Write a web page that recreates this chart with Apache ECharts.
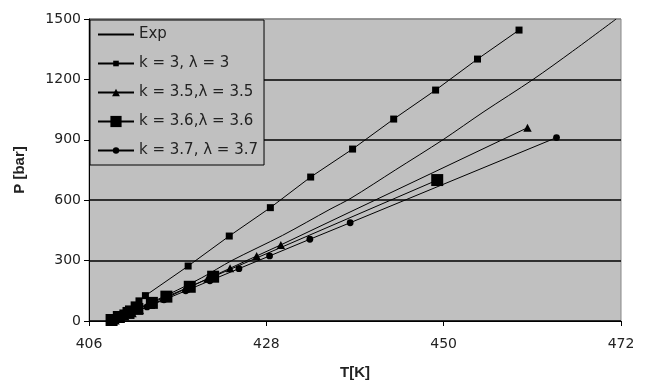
<!DOCTYPE html>
<html><head><meta charset="utf-8">
<script src="https://cdn.jsdelivr.net/npm/echarts@6/dist/echarts.min.js"></script>
<style>html,body{margin:0;padding:0;background:#fff}#c{width:646px;height:382px}</style>
</head><body><div id="c"></div>
<script>
// Tick labels
const xTicks = [406, 428, 450, 472];
const yTicks = [0, 300, 600, 900, 1200, 1500];
// Series names
const names = ['Exp', 'k = 3, \u03bb = 3', 'k = 3.5,\u03bb = 3.5', 'k = 3.6,\u03bb = 3.6', 'k = 3.7, \u03bb = 3.7'];
// Experimental curve
const expT = [408.8, 412, 416, 420, 423.7, 430, 435.9, 438.5, 444, 449.9, 455, 461.1, 466, 471.4];
const expP = [0, 60, 135, 215, 300, 425, 555, 610, 750, 900, 1040, 1200, 1340, 1500];
// k = 3, lambda = 3
const k3T = [409.0, 409.5, 410.2, 410.9, 411.6, 412.2, 413.0, 418.3, 423.4, 428.5, 433.5, 438.7, 443.8, 449.0, 454.2, 459.35];
const k3P = [5, 20, 40, 60, 80, 100, 126, 273, 422, 563, 715, 854, 1003, 1147, 1301, 1445];
// k = 3.5, lambda = 3.5
const k35T = [409.3, 409.9, 410.5, 411.4, 412.3, 413.7, 415.6, 418.0, 420.7, 423.5, 426.8, 429.8, 460.4];
const k35P = [2, 10, 22, 38, 55, 80, 115, 160, 210, 262, 323, 378, 960];
// k = 3.6, lambda = 3.6
const k36T = [408.8, 409.7, 410.9, 412.0, 413.8, 415.6, 418.5, 421.4, 449.2];
const k36P = [5, 20, 40, 60, 90, 121, 170, 220, 700];
// k = 3.7, lambda = 3.7
const k37T = [409.3, 410.2, 411.4, 413.2, 415.3, 418.0, 421.0, 424.6, 428.4, 433.4, 438.4, 464.0];
const k37P = [5, 20, 40, 70, 105, 150, 200, 260, 323, 406, 488, 911];

const pairs = (t, p) => t.map((v, i) => [v, p[i]]);
const FONT = "'DejaVu Sans', sans-serif";
const BFONT = "'Liberation Sans', Arial, sans-serif";
const lineStyle = { color: '#000', width: 1 };
const itemStyle = { color: '#000' };

// marker shapes inside a 12x12 box (moveTo corners fix the box)
const BOX = 'M0,0 M12,12 ';
const SYM_NONE = 'path://' + BOX + 'M6,6 L6,6';
const SYM_SMALLSQ = 'path://' + BOX + 'M3,3 L9,3 L9,9 L3,9 Z';
const SYM_TRI = 'path://' + BOX + 'M6,2 L10.2,10 L1.8,10 Z';
const SYM_CIRC = 'path://' + BOX + 'M2.6,6 A3.4,3.4 0 1,0 9.4,6 A3.4,3.4 0 1,0 2.6,6 Z';

const chart = echarts.init(document.getElementById('c'), null, { renderer: 'canvas' });
chart.setOption({
  animation: false,
  backgroundColor: '#fff',
  grid: { left: 89, right: 25, top: 19, bottom: 61, outerBoundsMode: 'none', containLabel: false,
          show: true, backgroundColor: '#c0c0c0', borderColor: '#888', borderWidth: 1 },
  legend: {
    orient: 'vertical', left: 90, top: 20,
    padding: [7, 6, 7, 7], itemGap: 14, itemWidth: 36, itemHeight: 14,
    backgroundColor: '#c0c0c0', borderColor: '#000', borderWidth: 1,
    textStyle: { fontFamily: FONT, fontSize: 15, color: '#222' },
    data: names
  },
  xAxis: {
    type: 'value', min: xTicks[0], max: xTicks[xTicks.length - 1],
    name: 'T[K]', nameLocation: 'middle', nameGap: 44,
    nameTextStyle: { fontFamily: BFONT, fontSize: 15, fontWeight: 'bold', color: '#222' },
    axisLine: { show: true, lineStyle: { color: '#000', width: 1 } },
    axisTick: { show: true, length: 5, lineStyle: { color: '#000' }, customValues: xTicks },
    axisLabel: { fontFamily: FONT, fontSize: 14, color: '#222', margin: 16, customValues: xTicks },
    splitLine: { show: false }
  },
  yAxis: {
    type: 'value', min: yTicks[0], max: yTicks[yTicks.length - 1], interval: 300,
    name: 'P [bar]', nameLocation: 'middle', nameGap: 62, nameRotate: 90,
    nameTextStyle: { fontFamily: BFONT, fontSize: 15, fontWeight: 'bold', color: '#222' },
    axisLine: { show: true, lineStyle: { color: '#000', width: 1 } },
    axisTick: { show: true, length: 5, lineStyle: { color: '#000' } },
    axisLabel: { fontFamily: FONT, fontSize: 14, color: '#222', margin: 8, formatter: v => String(v) },
    splitLine: { show: true, lineStyle: { color: ['#000', '#000', '#000', '#000', '#000', '#888'], width: 1.5 } }
  },
  series: [
    { name: names[0], type: 'line', data: pairs(expT, expP), smooth: 0.3, showSymbol: false, symbol: SYM_NONE, lineStyle, itemStyle },
    { name: names[1], type: 'line', data: pairs(k3T, k3P), symbol: SYM_SMALLSQ, symbolSize: 14, lineStyle, itemStyle },
    { name: names[2], type: 'line', data: pairs(k35T, k35P), symbol: SYM_TRI, symbolSize: 12, lineStyle, itemStyle },
    { name: names[3], type: 'line', data: pairs(k36T, k36P), symbol: 'rect', symbolSize: 12, lineStyle, itemStyle },
    { name: names[4], type: 'line', data: pairs(k37T, k37P), symbol: SYM_CIRC, symbolSize: 12, lineStyle, itemStyle }
  ]
});
</script></body></html>
